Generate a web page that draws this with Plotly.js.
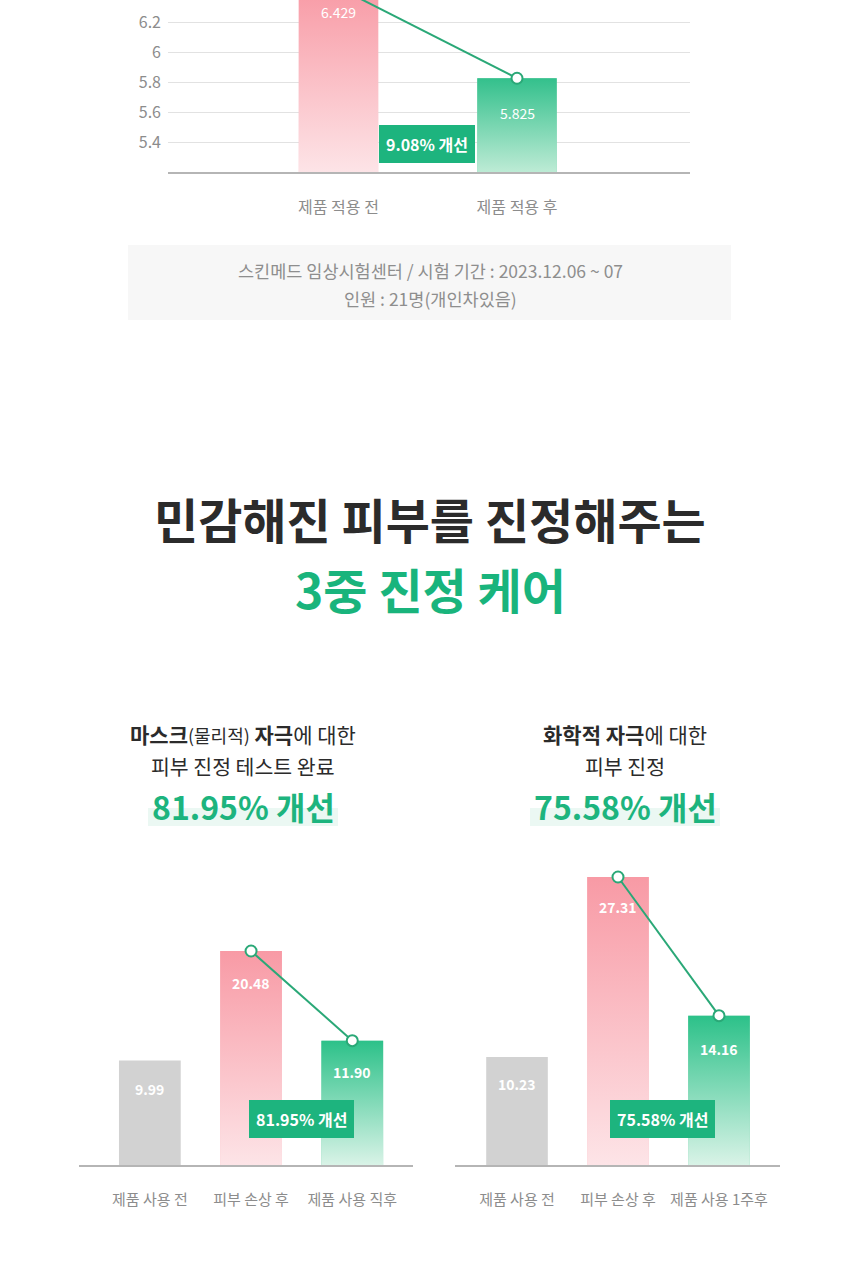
<!DOCTYPE html>
<html>
<head>
<meta charset="utf-8">
<script src="https://cdn.plot.ly/plotly-3.0.1.min.js"></script>
<style>html,body{margin:0;padding:0;background:#fff;}#chart{width:860px;height:1280px;}</style>
</head>
<body>
<div id="chart"></div>
<script>
// ---------- data ----------
const topCats = ['제품 적용 전', '제품 적용 후'];
const topVals = [6.429, 5.825];
const topLabels = ['6.429', '5.825'];
const topTicks = [5.4, 5.6, 5.8, 6, 6.2];
const topTickText = ['5.4', '5.6', '5.8', '6', '6.2'];
const topBadge = '9.08% 개선';

const leftCats = ['제품 사용 전', '피부 손상 후', '제품 사용 직후'];
const leftVals = [9.99, 20.48, 11.90];
const leftLabels = ['9.99', '20.48', '11.90'];
const leftBadge = '81.95% 개선';

const rightCats = ['제품 사용 전', '피부 손상 후', '제품 사용 1주후'];
const rightVals = [10.23, 27.31, 14.16];
const rightLabels = ['10.23', '27.31', '14.16'];
const rightBadge = '75.58% 개선';

const footLines = ['스킨메드 임상시험센터 / 시험 기간 : 2023.12.06 ~ 07', '인원 : 21명(개인차있음)'];
const titleLines = ['민감해진 피부를 진정해주는', '3중 진정 케어'];
const leftHead = ['<b>마스크</b><span style="font-size:18px">(물리적)</span> <b>자극</b>에 대한', '피부 진정 테스트 완료', '81.95% 개선'];
const rightHead = ['<b>화학적 자극</b>에 대한', '피부 진정', '75.58% 개선'];

// ---------- style ----------
const FONT = 'Noto Sans CJK KR, Noto Sans, sans-serif';
const W = 860, H = 1280;
const GREEN = '#1db47e';
const LINE = '#2aa877';
const GRAY = '#d2d2d2';
const PINK_TOP = '#f89aa5', PINK_BOT = '#fde4e7';
const GRN_TOP = '#2cc189', GRN_BOT = '#d9f3e7';
const px = v => v / W;
const py = v => 1 - v / H;

const traces = [];
const annotations = [];
const shapes = [];

function addChart(opts) {
  const {xa, ya, vals, labels, colors, grads, width, base, top, lineIdx, labelFont, labelShift} = opts;
  const idx = vals.map((_, i) => i);
  traces.push({
    type: 'bar', x: idx, y: vals, width: width, xaxis: xa, yaxis: ya,
    marker: {color: colors, line: {width: 0}}, hoverinfo: 'skip'
  });
  vals.forEach((v, i) => {
    if (!grads[i]) return;
    traces.push({
      type: 'scatter', mode: 'none', xaxis: xa, yaxis: ya, hoverinfo: 'skip',
      x: [i - width / 2, i + width / 2, i + width / 2, i - width / 2, i - width / 2],
      y: [base, base, v, v, base],
      fill: 'toself',
      fillgradient: {type: 'vertical', start: base, stop: v,
        colorscale: [[0, grads[i][1]], [1, grads[i][0]]]}
    });
  });
  traces.push({
    type: 'scatter', mode: 'lines+markers', xaxis: xa, yaxis: ya, hoverinfo: 'skip',
    x: lineIdx, y: lineIdx.map(i => vals[i]),
    line: {color: LINE, width: 2},
    marker: {size: 11, color: '#ffffff', line: {color: LINE, width: 2}}
  });
  vals.forEach((v, i) => {
    const clamped = v > top;
    annotations.push({
      xref: xa, yref: ya, x: i, y: clamped ? top : v, yshift: clamped ? -12 : labelShift[i], showarrow: false,
      text: labels[i], font: labelFont, yanchor: 'middle'
    });
  });
}

const TOP_MAX = 5.2 + 172 / 150;
const L_MAX = 315 / 10.45;
const R_MAX = 315 / 10.546;

// top chart
addChart({xa: 'x', ya: 'y', vals: topVals, labels: topLabels,
  colors: ['#fbc3c9', '#7fd6b2'], grads: [[PINK_TOP, PINK_BOT], ['#33c08c', '#bdebd5']],
  width: 0.445, base: 5.2, top: TOP_MAX, lineIdx: [0, 1],
  labelFont: {family: FONT, size: 14, color: '#ffffff'}, labelShift: [-26, -35]});
// left chart
addChart({xa: 'x2', ya: 'y2', vals: leftVals, labels: leftLabels,
  colors: [GRAY, '#fbc3c9', '#7fd6b2'], grads: [null, [PINK_TOP, PINK_BOT], [GRN_TOP, GRN_BOT]],
  width: 0.61, base: 0, top: L_MAX, lineIdx: [1, 2],
  labelFont: {family: FONT, size: 14, color: '#ffffff', weight: 600}, labelShift: [-28, -32, -31]});
// right chart
addChart({xa: 'x3', ya: 'y3', vals: rightVals, labels: rightLabels,
  colors: [GRAY, '#fbc3c9', '#7fd6b2'], grads: [null, [PINK_TOP, PINK_BOT], [GRN_TOP, GRN_BOT]],
  width: 0.61, base: 0, top: R_MAX, lineIdx: [1, 2],
  labelFont: {family: FONT, size: 14, color: '#ffffff', weight: 600}, labelShift: [-27, -30, -33]});

// badges
function badge(xa, ya, x, y, text) {
  annotations.push({xref: xa, yref: ya, x: x, y: y, showarrow: false, text: text,
    font: {family: FONT, size: 16, color: '#ffffff', weight: 700},
    bgcolor: GREEN, bordercolor: GREEN, borderwidth: 1, borderpad: 6});
}
badge('x', 'y', 0.496, 5.387, topBadge);
badge('x2', 'y2', 1.5, 4.4, leftBadge);
badge('x3', 'y3', 1.445, 4.36, rightBadge);

// footnote box
shapes.push({type: 'rect', xref: 'paper', yref: 'paper', x0: px(128), x1: px(731), y0: py(245), y1: py(320),
  fillcolor: '#f7f7f7', line: {width: 0}, layer: 'below'});
footLines.forEach((t, i) => annotations.push({xref: 'paper', yref: 'paper', x: 0.5, y: py(271 + i * 27),
  showarrow: false, text: t, font: {family: FONT, size: 17.5, color: '#8e8e8e'}, xanchor: 'center', yanchor: 'middle'}));

// titles
annotations.push({xref: 'paper', yref: 'paper', x: 0.5, y: py(518), showarrow: false, text: titleLines[0],
  font: {family: FONT, size: 48, color: '#2b2b2b', weight: 700}, xanchor: 'center', yanchor: 'middle'});
annotations.push({xref: 'paper', yref: 'paper', x: 0.5, y: py(588), showarrow: false, text: titleLines[1],
  font: {family: FONT, size: 48, color: '#19b47c', weight: 700}, xanchor: 'center', yanchor: 'middle'});

// headers
function header(cx, lines) {
  annotations.push({xref: 'paper', yref: 'paper', x: px(cx), y: py(734), showarrow: false, text: lines[0],
    font: {family: FONT, size: 21, color: '#2b2b2b'}, xanchor: 'center', yanchor: 'middle'});
  annotations.push({xref: 'paper', yref: 'paper', x: px(cx), y: py(766), showarrow: false, text: lines[1],
    font: {family: FONT, size: 20.5, color: '#2b2b2b'}, xanchor: 'center', yanchor: 'middle'});
  shapes.push({type: 'rect', xref: 'paper', yref: 'paper', x0: px(cx - 95), x1: px(cx + 95), y0: py(826), y1: py(808),
    fillcolor: 'rgba(29,180,126,0.09)', line: {width: 0}, layer: 'below'});
  annotations.push({xref: 'paper', yref: 'paper', x: px(cx), y: py(806), showarrow: false, text: lines[2],
    font: {family: FONT, size: 32, color: GREEN, weight: 700}, xanchor: 'center', yanchor: 'middle'});
}
header(243, leftHead);
header(625, rightHead);

const xBase = {
  showgrid: false, zeroline: false, showline: true, linecolor: '#b5b5b5', linewidth: 2,
  ticks: '', ticklabelstandoff: 20, tickfont: {family: FONT, size: 15, color: '#8c8c8c'}, fixedrange: true
};
const yHidden = {showgrid: false, zeroline: false, showline: false, showticklabels: false, ticks: '', fixedrange: true};

const layout = {
  width: W, height: H, margin: {l: 0, r: 0, t: 0, b: 0},
  paper_bgcolor: '#ffffff', plot_bgcolor: 'rgba(0,0,0,0)', showlegend: false,
  font: {family: FONT},
  xaxis: Object.assign({}, xBase, {domain: [px(168), px(690)], range: [-0.955, 1.969], anchor: 'y',
    tickmode: 'array', tickvals: [0, 1], ticktext: topCats,
    tickfont: {family: FONT, size: 16, color: '#8c8c8c'}}),
  yaxis: {domain: [py(172), 1], range: [5.2, TOP_MAX], anchor: 'x', tickmode: 'array',
    tickvals: topTicks, ticktext: topTickText, showgrid: true, gridcolor: '#e2e2e2', gridwidth: 1,
    zeroline: false, showline: false, ticks: '', ticklabelstandoff: 6,
    tickfont: {family: FONT, size: 16, color: '#8c8c8c'}, fixedrange: true},
  xaxis2: Object.assign({}, xBase, {domain: [px(79), px(413)], range: [-0.7, 2.6], anchor: 'y2',
    tickmode: 'array', tickvals: [0, 1, 2], ticktext: leftCats}),
  yaxis2: Object.assign({}, yHidden, {domain: [py(1165), py(850)], range: [0, L_MAX], anchor: 'x2'}),
  xaxis3: Object.assign({}, xBase, {domain: [px(455), px(780)], range: [-0.614, 2.604], anchor: 'y3',
    tickmode: 'array', tickvals: [0, 1, 2], ticktext: rightCats}),
  yaxis3: Object.assign({}, yHidden, {domain: [py(1165), py(850)], range: [0, R_MAX], anchor: 'x3'}),
  annotations: annotations,
  shapes: shapes,
  barmode: 'overlay'
};

Plotly.newPlot('chart', traces, layout, {staticPlot: true, displayModeBar: false});
</script>
</body>
</html>
